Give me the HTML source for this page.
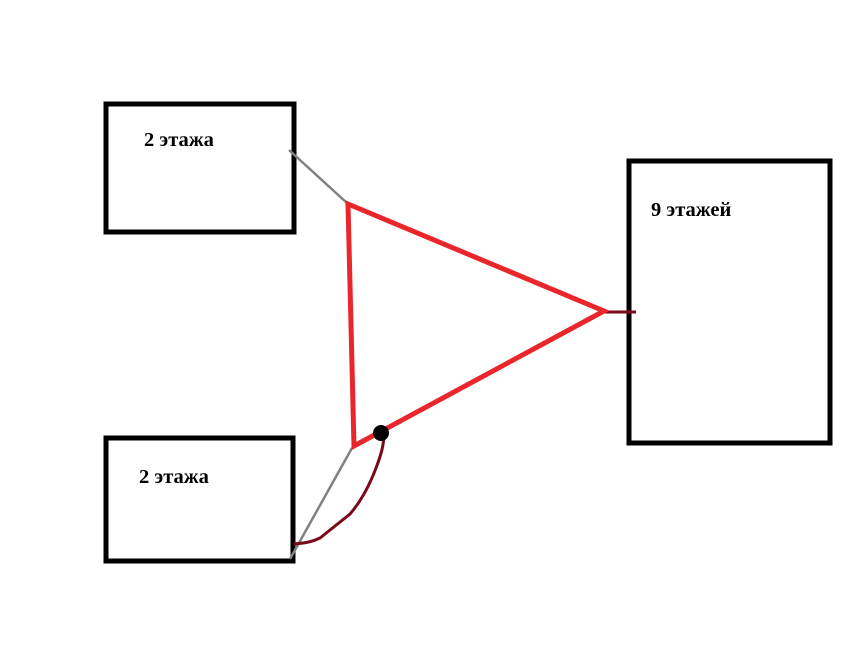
<!DOCTYPE html>
<html><head><meta charset="utf-8"><style>
html,body{margin:0;padding:0;background:#fff;width:864px;height:648px;overflow:hidden}
text{font-family:"Liberation Serif",serif;font-weight:bold;font-size:20.5px}
</style></head><body>
<svg width="864" height="648" xmlns="http://www.w3.org/2000/svg">
<rect x="106" y="104" width="188" height="128" fill="none" stroke="#000" stroke-width="5"/>
<rect x="106" y="438" width="187" height="123" fill="none" stroke="#000" stroke-width="5"/>
<rect x="629" y="161" width="201" height="282" fill="none" stroke="#000" stroke-width="5"/>
<text x="144" y="146">2 этажа</text>
<text x="139" y="483">2 этажа</text>
<text x="651" y="216">9 этажей</text>
<line x1="289" y1="150" x2="347" y2="203" stroke="#808080" stroke-width="2.5"/>
<line x1="290" y1="559" x2="352" y2="448" stroke="#808080" stroke-width="2.5"/>
<line x1="604" y1="312" x2="636" y2="312" stroke="#7a0a18" stroke-width="3"/>
<polygon points="348,204 604,311 354,446" fill="none" stroke="#e8262c" stroke-width="5" stroke-linejoin="miter"/>
<path d="M294,544 C305,543 312,542 320,538 C330,530 340,522 350,514 C362,500 370,484 376,468 C381,455 384,445 384,433" fill="none" stroke="#7a0a18" stroke-width="3"/>
<ellipse cx="381" cy="433" rx="8" ry="8" fill="#000"/>
</svg>
</body></html>
